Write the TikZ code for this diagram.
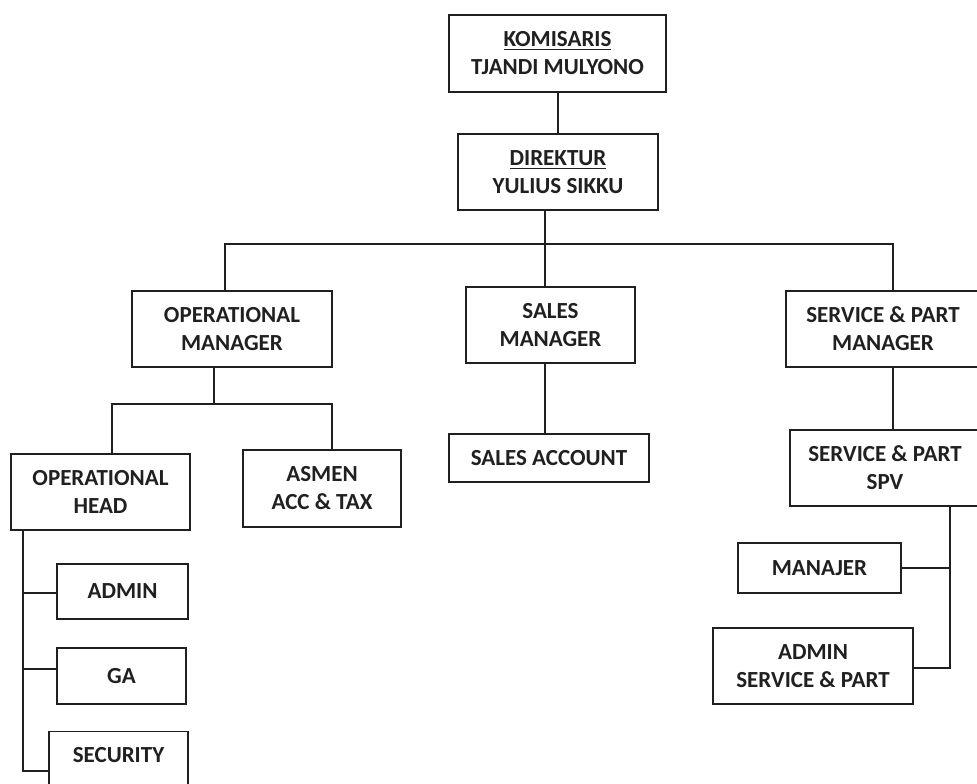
\documentclass[tikz,border=0pt]{standalone}
\usepackage{fontspec}
\setmainfont{Carlito}
\usepackage{xcolor}
\usetikzlibrary{positioning,calc}
\definecolor{ink}{HTML}{202020}
\tikzset{
    orgbox/.style={draw=ink,line width=0.8pt,fill=white,text=ink,align=center,inner sep=0pt,
        font=\fontsize{13.1pt}{15.9pt}\selectfont\bfseries},
    wire/.style={draw=ink,line width=0.8pt}
}

\begin{document}
\begin{tikzpicture}[x=0.02cm,y=-0.02cm]
    \clip (0,0) rectangle (977,784);
    \fill[white] (0,0) rectangle (977,784);

    % Top
    \node[orgbox,minimum width=4.34cm,minimum height=1.54cm] (kom) at (557.5,53.5) {\underline{KOMISARIS}\\TJANDI MULYONO};
    \node[orgbox,minimum width=4.0cm,minimum height=1.52cm] (dir) at (558,172) {\underline{DIREKTUR}\\YULIUS SIKKU};

    % Managers
    \node[orgbox,minimum width=4.0cm,minimum height=1.52cm] (opm) at (232,329) {OPERATIONAL\\MANAGER};
    \node[orgbox,minimum width=3.38cm,minimum height=1.52cm] (sm) at (550.5,325) {SALES\\MANAGER};
    \node[orgbox,minimum width=3.88cm,minimum height=1.52cm] (spm) at (883,329) {SERVICE \& PART\\MANAGER};

    % Second level
    \node[orgbox,minimum width=3.58cm,minimum height=1.52cm] (oph) at (100.5,492) {OPERATIONAL\\HEAD};
    \node[orgbox,minimum width=3.16cm,minimum height=1.54cm] (asm) at (322,488.5) {ASMEN\\ACC \& TAX};
    \node[orgbox,minimum width=4.0cm,minimum height=0.96cm] (sa) at (549,458) {SALES ACCOUNT};
    \node[orgbox,minimum width=3.8cm,minimum height=1.52cm] (spv) at (885,468) {SERVICE \& PART\\SPV};

    % Staff
    \node[orgbox,minimum width=2.62cm,minimum height=1.1cm] (adm) at (122.5,591.5) {ADMIN};
    \node[orgbox,minimum width=2.58cm,minimum height=1.12cm] (ga) at (121.5,676) {GA};
    \node[orgbox,minimum width=2.78cm,anchor=north,text height=0.62cm,text depth=1.2cm] (sec) at (118.5,731) {SECURITY};
    \node[orgbox,minimum width=3.26cm,minimum height=1.0cm] (man) at (819.5,568) {MANAJER};
    \node[orgbox,minimum width=4.0cm,minimum height=1.52cm] (admsp) at (813,666) {ADMIN\\SERVICE \& PART};

    % Junctions
    \coordinate (jtop) at (545,244);
    \coordinate (jl) at (225,244);
    \coordinate (jr) at (893,244);
    \coordinate (jop) at (214,404);
    \coordinate (jopl) at (112,404);
    \coordinate (jopr) at (332,404);
    \coordinate (jspv) at (950,668);
    \coordinate (jadm) at (23,593);
    \coordinate (jga) at (23,669);
    \coordinate (jsec) at (23,771);

    \draw[wire] (kom.south -| dir.north) -- (dir.north);
    \draw[wire] (jtop |- dir.south) -- (jtop |- sm.north);
    \draw[wire] (jl |- opm.north) -- (jl) -- (jr) -- (jr |- spm.north);

    % Operational branch
    \draw[wire] (jop |- opm.south) -- (jop);
    \draw[wire] (jopl |- oph.north) -- (jopl) -- (jopr) -- (jopr |- asm.north);
    \draw[wire] (jsec |- oph.south) -- (jsec) -- (jsec -| sec.west);
    \draw[wire] (jadm) -- (jadm -| adm.west);
    \draw[wire] (jga) -- (jga -| ga.west);

    % Sales branch
    \draw[wire] (jtop |- sm.south) -- (jtop |- sa.north);

    % Service branch
    \draw[wire] (jr |- spm.south) -- (jr |- spv.north);
    \draw[wire] (jspv |- spv.south) -- (jspv) -- (jspv -| admsp.east);
    \draw[wire] (man.east) -- (man.east -| jspv);
\end{tikzpicture}
\end{document}
